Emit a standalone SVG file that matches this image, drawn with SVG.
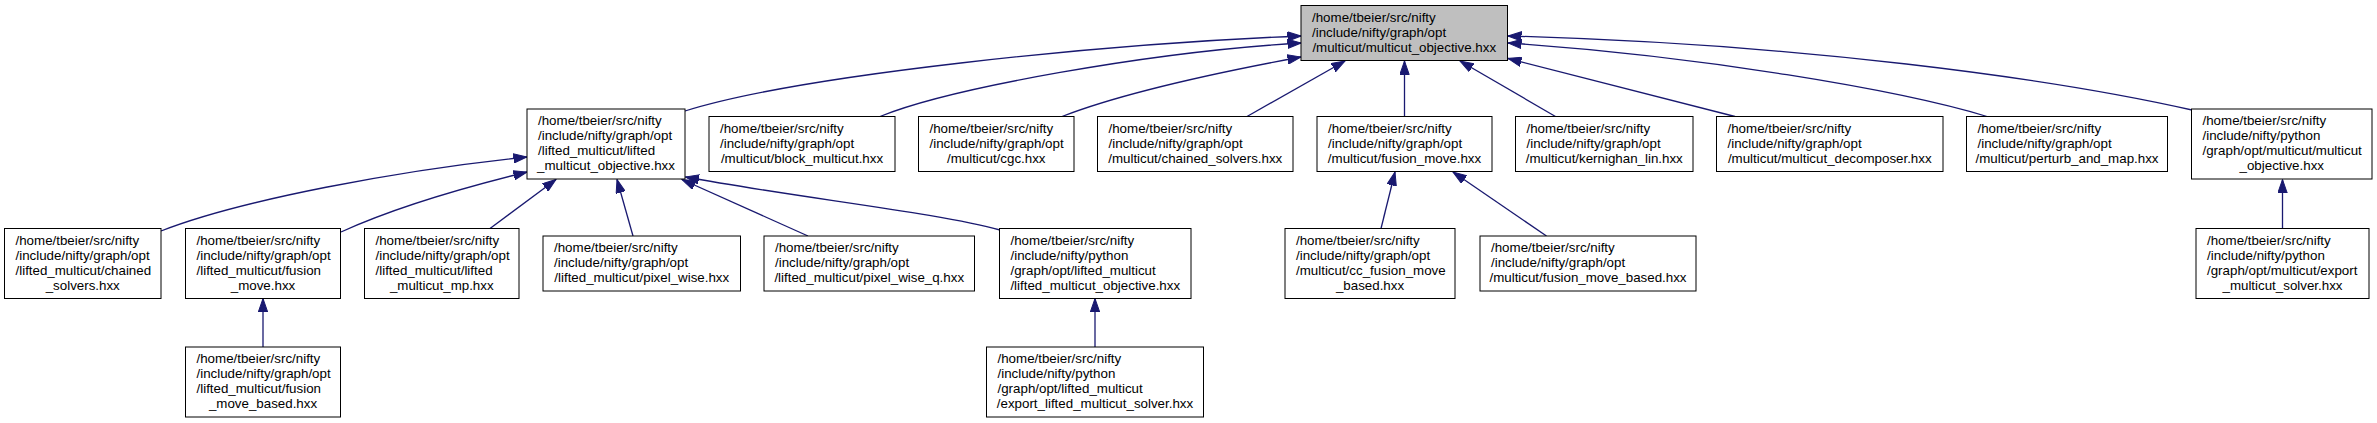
<svg xmlns="http://www.w3.org/2000/svg" width="2377" height="423" viewBox="0 0 2377 423">
<style>
.n rect{fill:#fff;stroke:#000;stroke-width:1}
#root rect{fill:#bfbfbf}
text{font-family:"Liberation Sans",Arial,Helvetica,sans-serif;font-size:13.33px;fill:#000}
.c{text-anchor:middle}
#edges path{fill:none;stroke:#191970;stroke-width:1.3;marker-end:url(#ah)}
</style>
<defs>
<marker id="ah" markerUnits="userSpaceOnUse" markerWidth="14" markerHeight="10" viewBox="0 0 14 10" refX="13.5" refY="5" orient="auto">
<path d="M0,0.3 L13.5,5 L0,9.7 Z" fill="#191970" stroke="#191970" stroke-width="1"/>
</marker>
</defs>
<rect width="2377" height="423" fill="#fff"/>
<g id="edges">
<path d="M685,111 C800,75 1100,44 1301,36"/>
<path d="M880,116.5 C950,88 1150,52 1301,43"/>
<path d="M1062,116.5 C1120,94 1220,72 1301,57"/>
<path d="M1247,116.5 L1345,61"/>
<path d="M1404.5,116.5 L1404.5,61"/>
<path d="M1555.5,116.5 L1460,61"/>
<path d="M1735,116.5 L1508,58.5"/>
<path d="M1987,116.5 C1900,90 1700,56 1508,43"/>
<path d="M2192,110 C2050,78 1800,44 1508,36"/>
<path d="M161,231 C240,200 400,170 527,157"/>
<path d="M341,232 C400,205 470,186 527,172"/>
<path d="M490,228.5 L556,179.5"/>
<path d="M633,236 L617,179.5"/>
<path d="M808,236 L682,179.5"/>
<path d="M1000,230 C940,213 800,198 685.5,177"/>
<path d="M1381,228.5 L1395,172"/>
<path d="M1546.5,236 L1453,172"/>
<path d="M2282.5,228.5 L2282.5,179.5"/>
<path d="M263,347 L263,298.5"/>
<path d="M1095,347 L1095,298.5"/>
</g>
<g id="root" class="n"><rect x="1301" y="5.5" width="206.5" height="55"/><text x="1312" y="21.5">/home/tbeier/src/nifty</text><text x="1312" y="36.5">/include/nifty/graph/opt</text><text class="c" x="1404.25" y="51.5">/multicut/multicut_objective.hxx</text></g>
<g id="n1" class="n"><rect x="527" y="109" width="158" height="70"/><text x="538" y="125">/home/tbeier/src/nifty</text><text x="538" y="140">/include/nifty/graph/opt</text><text x="538" y="155">/lifted_multicut/lifted</text><text class="c" x="606" y="170">_multicut_objective.hxx</text></g>
<g id="n2" class="n"><rect x="709" y="116.5" width="186" height="55"/><text x="720" y="132.5">/home/tbeier/src/nifty</text><text x="720" y="147.5">/include/nifty/graph/opt</text><text class="c" x="802" y="162.5">/multicut/block_multicut.hxx</text></g>
<g id="n3" class="n"><rect x="918.5" y="116.5" width="155.5" height="55"/><text x="929.5" y="132.5">/home/tbeier/src/nifty</text><text x="929.5" y="147.5">/include/nifty/graph/opt</text><text class="c" x="996.25" y="162.5">/multicut/cgc.hxx</text></g>
<g id="n4" class="n"><rect x="1097.5" y="116.5" width="195.5" height="55"/><text x="1108.5" y="132.5">/home/tbeier/src/nifty</text><text x="1108.5" y="147.5">/include/nifty/graph/opt</text><text class="c" x="1195.25" y="162.5">/multicut/chained_solvers.hxx</text></g>
<g id="n5" class="n"><rect x="1317" y="116.5" width="175" height="55"/><text x="1328" y="132.5">/home/tbeier/src/nifty</text><text x="1328" y="147.5">/include/nifty/graph/opt</text><text class="c" x="1404.5" y="162.5">/multicut/fusion_move.hxx</text></g>
<g id="n6" class="n"><rect x="1515.5" y="116.5" width="177.5" height="55"/><text x="1526.5" y="132.5">/home/tbeier/src/nifty</text><text x="1526.5" y="147.5">/include/nifty/graph/opt</text><text class="c" x="1604.25" y="162.5">/multicut/kernighan_lin.hxx</text></g>
<g id="n7" class="n"><rect x="1716.5" y="116.5" width="226.5" height="55"/><text x="1727.5" y="132.5">/home/tbeier/src/nifty</text><text x="1727.5" y="147.5">/include/nifty/graph/opt</text><text class="c" x="1829.75" y="162.5">/multicut/multicut_decomposer.hxx</text></g>
<g id="n8" class="n"><rect x="1966.5" y="116.5" width="201" height="55"/><text x="1977.5" y="132.5">/home/tbeier/src/nifty</text><text x="1977.5" y="147.5">/include/nifty/graph/opt</text><text class="c" x="2067" y="162.5">/multicut/perturb_and_map.hxx</text></g>
<g id="n9" class="n"><rect x="2191.5" y="109" width="180.5" height="70"/><text x="2202.5" y="125">/home/tbeier/src/nifty</text><text x="2202.5" y="140">/include/nifty/python</text><text x="2202.5" y="155">/graph/opt/multicut/multicut</text><text class="c" x="2281.75" y="170">_objective.hxx</text></g>
<g id="n10" class="n"><rect x="4.5" y="228.5" width="156.5" height="70"/><text x="15.5" y="244.5">/home/tbeier/src/nifty</text><text x="15.5" y="259.5">/include/nifty/graph/opt</text><text x="15.5" y="274.5">/lifted_multicut/chained</text><text class="c" x="82.75" y="289.5">_solvers.hxx</text></g>
<g id="n11" class="n"><rect x="185.5" y="228.5" width="155" height="70"/><text x="196.5" y="244.5">/home/tbeier/src/nifty</text><text x="196.5" y="259.5">/include/nifty/graph/opt</text><text x="196.5" y="274.5">/lifted_multicut/fusion</text><text class="c" x="263" y="289.5">_move.hxx</text></g>
<g id="n12" class="n"><rect x="364.5" y="228.5" width="154.5" height="70"/><text x="375.5" y="244.5">/home/tbeier/src/nifty</text><text x="375.5" y="259.5">/include/nifty/graph/opt</text><text x="375.5" y="274.5">/lifted_multicut/lifted</text><text class="c" x="441.75" y="289.5">_multicut_mp.hxx</text></g>
<g id="n13" class="n"><rect x="543" y="236" width="197.5" height="55"/><text x="554" y="252">/home/tbeier/src/nifty</text><text x="554" y="267">/include/nifty/graph/opt</text><text class="c" x="641.75" y="282">/lifted_multicut/pixel_wise.hxx</text></g>
<g id="n14" class="n"><rect x="764" y="236" width="210.5" height="55"/><text x="775" y="252">/home/tbeier/src/nifty</text><text x="775" y="267">/include/nifty/graph/opt</text><text class="c" x="869.25" y="282">/lifted_multicut/pixel_wise_q.hxx</text></g>
<g id="n15" class="n"><rect x="999.5" y="228.5" width="191.5" height="70"/><text x="1010.5" y="244.5">/home/tbeier/src/nifty</text><text x="1010.5" y="259.5">/include/nifty/python</text><text x="1010.5" y="274.5">/graph/opt/lifted_multicut</text><text class="c" x="1095.25" y="289.5">/lifted_multicut_objective.hxx</text></g>
<g id="n16" class="n"><rect x="1285" y="228.5" width="170" height="70"/><text x="1296" y="244.5">/home/tbeier/src/nifty</text><text x="1296" y="259.5">/include/nifty/graph/opt</text><text x="1296" y="274.5">/multicut/cc_fusion_move</text><text class="c" x="1370" y="289.5">_based.hxx</text></g>
<g id="n17" class="n"><rect x="1480" y="236" width="216" height="55"/><text x="1491" y="252">/home/tbeier/src/nifty</text><text x="1491" y="267">/include/nifty/graph/opt</text><text class="c" x="1588" y="282">/multicut/fusion_move_based.hxx</text></g>
<g id="n18" class="n"><rect x="2196" y="228.5" width="173" height="70"/><text x="2207" y="244.5">/home/tbeier/src/nifty</text><text x="2207" y="259.5">/include/nifty/python</text><text x="2207" y="274.5">/graph/opt/multicut/export</text><text class="c" x="2282.5" y="289.5">_multicut_solver.hxx</text></g>
<g id="n19" class="n"><rect x="185.5" y="347" width="155" height="70"/><text x="196.5" y="363">/home/tbeier/src/nifty</text><text x="196.5" y="378">/include/nifty/graph/opt</text><text x="196.5" y="393">/lifted_multicut/fusion</text><text class="c" x="263" y="408">_move_based.hxx</text></g>
<g id="n20" class="n"><rect x="986.5" y="347" width="217" height="70"/><text x="997.5" y="363">/home/tbeier/src/nifty</text><text x="997.5" y="378">/include/nifty/python</text><text x="997.5" y="393">/graph/opt/lifted_multicut</text><text class="c" x="1095" y="408">/export_lifted_multicut_solver.hxx</text></g>
</svg>
